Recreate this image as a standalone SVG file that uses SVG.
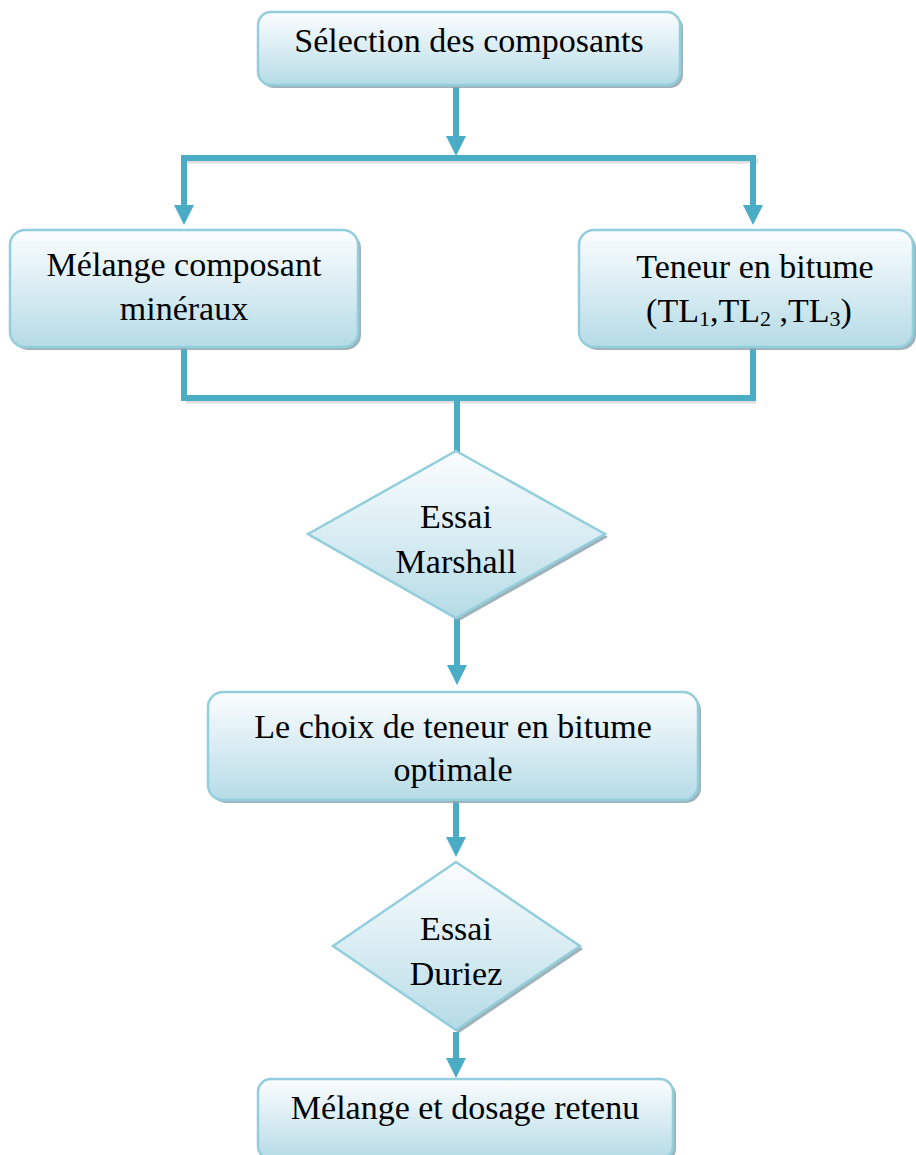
<svg xmlns="http://www.w3.org/2000/svg" width="916" height="1155" viewBox="0 0 916 1155">
  <defs>
    <linearGradient id="fillGrad" x1="0" y1="0" x2="0" y2="1">
      <stop offset="0" stop-color="#fbfdfe"/>
      <stop offset="0.55" stop-color="#d6ebf2"/>
      <stop offset="1" stop-color="#b5dbe6"/>
    </linearGradient>
    <marker id="arrow" markerUnits="userSpaceOnUse" markerWidth="20" markerHeight="20" refX="0" refY="10" orient="auto" overflow="visible">
      <path d="M0,0 L20,10 L0,20 Z" fill="#4bacc6"/>
    </marker>
  </defs>
  <style>
    .box { fill: url(#fillGrad); stroke: #93cedd; stroke-width: 2.5; }
    .shadow { fill: #8fa5ad; opacity: 0.85; }
    .conn { fill: none; stroke: #4bacc6; stroke-width: 6; stroke-linejoin: miter; }
    .connShadow { fill: none; stroke: #c8c8c8; stroke-width: 5; opacity: 0.6; }
    .label { font-family: "Liberation Serif", "Times New Roman", serif; font-size: 34px; fill: #000; text-anchor: middle; }
    .sub { font-size: 22px; }
  </style>

  <g id="connectors">
    <!-- soft shadows under the connector lines -->
    <path class="connShadow" d="M186,161 H758"/>
    <path class="connShadow" d="M186,401 H756"/>
    <!-- top box to split bar -->
    <path class="conn" d="M456,87 V136" marker-end="url(#arrow)"/>
    <!-- split bar -->
    <path class="conn" d="M181,158 H756"/>
    <path class="conn" d="M184,155 V205" marker-end="url(#arrow)"/>
    <path class="conn" d="M753,155 V205" marker-end="url(#arrow)"/>
    <!-- merge bar -->
    <path class="conn" d="M184,347 V398 H753 V347"/>
    <path class="conn" d="M457,398 V452"/>
    <!-- Marshall to optimum choice -->
    <path class="conn" d="M457,618 V665" marker-end="url(#arrow)"/>
    <!-- optimum choice to Duriez -->
    <path class="conn" d="M456,800 V837" marker-end="url(#arrow)"/>
    <!-- Duriez to final mix -->
    <path class="conn" d="M456,1032 V1058" marker-end="url(#arrow)"/>
  </g>

  <g id="node-selection">
    <rect class="shadow" x="261" y="15" width="422" height="73" rx="13"/>
    <rect class="box" x="258" y="12" width="422" height="73" rx="13"/>
    <text class="label" x="469" y="52">Sélection des composants</text>
  </g>

  <g id="node-melange-mineraux">
    <rect class="shadow" x="13" y="233" width="348" height="117" rx="15"/>
    <rect class="box" x="10" y="230" width="348" height="117" rx="15"/>
    <text class="label" x="184" y="276">Mélange composant</text>
    <text class="label" x="184" y="320">minéraux</text>
  </g>

  <g id="node-teneur-bitume">
    <rect class="shadow" x="582" y="233" width="334" height="117" rx="15"/>
    <rect class="box" x="579" y="230" width="334" height="117" rx="15"/>
    <text class="label" x="755" y="278">Teneur en bitume</text>
    <text class="label" x="749" y="322">(TL<tspan class="sub" dy="4">1</tspan><tspan dy="-4">,TL</tspan><tspan class="sub" dy="4">2</tspan><tspan dy="-4"> ,TL</tspan><tspan class="sub" dy="4">3</tspan><tspan dy="-4">)</tspan></text>
  </g>

  <g id="node-essai-marshall">
    <polygon class="shadow" points="459,454 608,537 459,621 311,537"/>
    <polygon class="box" points="456,451 605,534 456,618 308,534"/>
    <text class="label" x="456" y="528">Essai</text>
    <text class="label" x="456" y="573">Marshall</text>
  </g>

  <g id="node-choix-optimal">
    <rect class="shadow" x="211" y="695" width="490" height="108" rx="15"/>
    <rect class="box" x="208" y="692" width="490" height="108" rx="15"/>
    <text class="label" x="453" y="738">Le choix de teneur en bitume</text>
    <text class="label" x="453" y="781">optimale</text>
  </g>

  <g id="node-essai-duriez">
    <polygon class="shadow" points="459,865 583,949 459,1033 336,949"/>
    <polygon class="box" points="456,862 580,946 456,1030 333,946"/>
    <text class="label" x="456" y="940">Essai</text>
    <text class="label" x="456" y="985">Duriez</text>
  </g>

  <g id="node-melange-retenu">
    <rect class="shadow" x="261" y="1082" width="415" height="80" rx="13"/>
    <rect class="box" x="258" y="1079" width="415" height="80" rx="13"/>
    <text class="label" x="465" y="1119">Mélange et dosage retenu</text>
  </g>
</svg>
